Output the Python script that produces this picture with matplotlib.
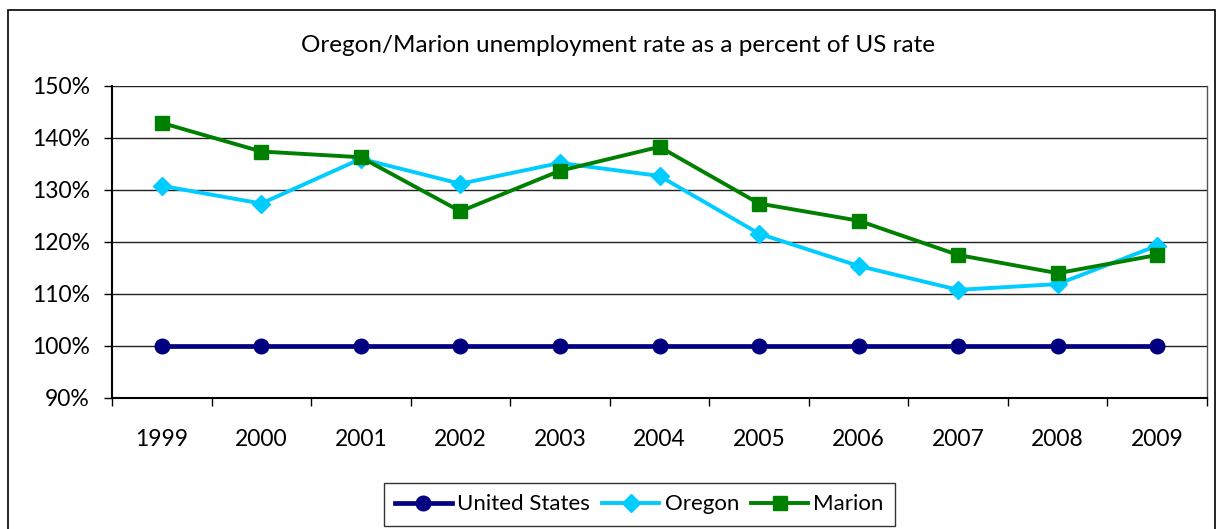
import matplotlib
matplotlib.use("Agg")
import matplotlib.pyplot as plt
from matplotlib.patches import Rectangle
from matplotlib.ticker import FuncFormatter, FixedLocator
import numpy as np

plt.rcParams['font.family'] = ['Lato', 'DejaVu Sans']

years = ["1999", "2000", "2001", "2002", "2003", "2004",
         "2005", "2006", "2007", "2008", "2009"]
united_states = [100, 100, 100, 100, 100, 100, 100, 100, 100, 100, 100]
oregon = [130.8, 127.4, 136.0, 131.2, 135.2, 132.7, 121.6, 115.4, 110.8, 111.9, 119.3]
marion = [142.9, 137.4, 136.3, 125.9, 133.7, 138.3, 127.4, 124.1, 117.5, 114.0, 117.5]

fig = plt.figure(figsize=(12.18, 5.29), dpi=100)
ax = fig.add_axes([112 / 1218, 1 - 398 / 529, (1207 - 112) / 1218, (398 - 86) / 529])

x = np.arange(len(years))
ax.plot(x, united_states, color="#000080", lw=3.4, marker="o", ms=10.5,
        label="United States", zorder=3)
ax.plot(x, oregon, color="#00CCFF", lw=2.8, marker="D", ms=9,
        label="Oregon", zorder=4)
ax.plot(x, marion, color="#008000", lw=2.8, marker="s", ms=10,
        label="Marion", zorder=5)

ax.set_xlim(-0.5, len(years) - 0.5)
ax.set_ylim(90, 150)
ax.set_yticks(np.arange(90, 151, 10))
ax.yaxis.set_major_formatter(FuncFormatter(lambda v, p: f"{int(round(v))}%"))
ax.yaxis.grid(True, color="#222222", lw=1.0)
ax.set_axisbelow(True)

ax.set_xticks(x)
ax.set_xticklabels(years)
ax.xaxis.set_minor_locator(FixedLocator(np.arange(-0.5, len(years), 1.0)))
ax.tick_params(axis="x", which="major", length=0, pad=22, labelsize=16.5)
ax.tick_params(axis="x", which="minor", length=6, width=1.0, direction="out")
ax.tick_params(axis="y", length=6, width=1.0, pad=10, labelsize=16.5)

for side in ["left", "bottom"]:
    ax.spines[side].set_linewidth(1.5)
ax.spines["top"].set_visible(False)
ax.spines["right"].set_linewidth(1.0)
ax.spines["right"].set_color("#555555")

fig.text(618 / 1218, 1 - 46 / 529,
         "Oregon/Marion unemployment rate as a percent of US rate",
         ha="center", va="center", fontsize=17.5)

# outer chart frame
fig.patches.append(Rectangle((8 / 1218, -0.05), (1215 - 8) / 1218, 1.05 - 10 / 529,
                             transform=fig.transFigure, fill=False,
                             edgecolor="black", lw=1.2, clip_on=False))

leg = fig.legend(loc="center", bbox_to_anchor=(639.5 / 1218, 1 - 504.5 / 529),
                 ncol=3, frameon=True, fancybox=False, edgecolor="black",
                 fontsize=16, handlelength=2.55, handletextpad=0.25,
                 columnspacing=0.55, borderpad=0.5, borderaxespad=0)
leg.get_frame().set_linewidth(1.0)

fig.savefig("out.png", dpi=100)
